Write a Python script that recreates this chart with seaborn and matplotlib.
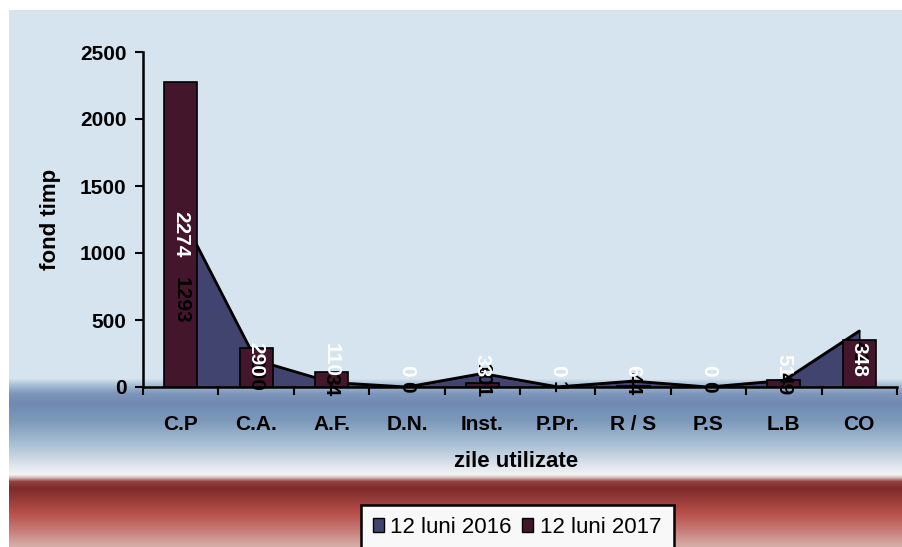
import numpy as np
import pandas as pd
import matplotlib.pyplot as plt
import seaborn as sns
from matplotlib.patches import Patch

# chart data
categories = ["C.P", "C.A.", "A.F.", "D.N.", "Inst.", "P.Pr.", "R / S", "P.S", "L.B", "CO"]
values_2016 = [1293, 200, 34, 0, 101, 1, 44, 0, 49, 418]
values_2017 = [2274, 290, 110, 0, 33, 0, 6, 0, 51, 348]
series_names = ["12 luni 2016", "12 luni 2017"]
y_ticks = [0, 500, 1000, 1500, 2000, 2500]

df = pd.DataFrame({"cat": categories, "v2016": values_2016, "v2017": values_2017})

area_color = "#424470"
bar_color = "#44162b"

sns.set_style("ticks")
plt.rcParams["font.family"] = ["Liberation Sans", "DejaVu Sans"]
plt.rcParams.update({"text.color": "black", "axes.labelcolor": "black",
                     "xtick.color": "black", "ytick.color": "black"})

W, H = 903, 547
fig = plt.figure(figsize=(W / 100, H / 100), dpi=100)
fig.patch.set_facecolor("white")

# background gradient (blue band at the floor, red band at the bottom)
bg = fig.add_axes([9 / W, 0, (W - 9) / W, (H - 10) / H], zorder=0)
stops_y = [10, 378, 384, 393, 403, 420, 445, 466, 474, 477, 481, 488, 512, 530, 547]
stops_rgb = [(214, 228, 239), (214, 228, 239), (170, 194, 214), (126, 150, 186),
             (112, 137, 178), (124, 153, 186), (172, 194, 214), (224, 231, 238),
             (243, 243, 243), (214, 188, 188), (150, 66, 66), (124, 42, 42),
             (184, 78, 73), (198, 125, 120), (218, 178, 173)]
rows = np.arange(10, H)
grad = np.stack([np.interp(rows, stops_y, [c[i] for c in stops_rgb]) for i in range(3)], axis=-1) / 255
bg.imshow(grad[:, None, :], aspect="auto", extent=[0, 1, 0, 1])
bg.set_axis_off()

# plot area
ax = fig.add_axes([143 / W, (H - 387) / H, 754 / W, 335 / H], zorder=1)
ax.patch.set_alpha(0)

x = np.arange(len(categories))
ax.fill_between(x, df["v2016"], color=area_color, edgecolor="black", linewidth=1.0, zorder=2)
sns.lineplot(x=x, y=df["v2016"], color="black", linewidth=2, ax=ax, zorder=2.5)
sns.barplot(data=df, x="cat", y="v2017", color=bar_color, saturation=1, width=0.44,
            edgecolor="black", linewidth=1.2, ax=ax, zorder=3)

ax.set_xlim(-0.5, len(categories) - 0.5)
ax.set_ylim(0, 2500)
ax.set_yticks(y_ticks)
ax.set_yticklabels([str(t) for t in y_ticks], fontsize=15, fontweight="bold")
ax.set_xticks(np.arange(len(categories) + 1) - 0.5)
ax.set_xticklabels([])
ax.set_xticks(x, minor=True)
ax.set_xticklabels(categories, minor=True, fontsize=15, fontweight="bold")
ax.tick_params(axis="x", which="minor", length=0, pad=20)
ax.tick_params(axis="x", which="major", length=6, width=1.5, direction="out", color="black")
ax.tick_params(axis="y", length=6, width=1.5, direction="out", color="black", pad=6)

for s in ["top", "right"]:
    ax.spines[s].set_visible(False)
for s in ["left", "bottom"]:
    ax.spines[s].set_linewidth(1.8)
    ax.spines[s].set_color("black")

ax.set_xlabel("zile utilizate", fontsize=16, fontweight="bold")
ax.set_ylabel("fond timp", fontsize=16, fontweight="bold")
ax.xaxis.set_label_coords(0.495, -0.221)
ax.yaxis.set_label_coords(-0.123, 0.5)
ax.xaxis.label.set_va("center")
ax.yaxis.label.set_va("center")

# data labels: 2016 black at half height, 2017 white at half height but kept above the axis
for i, v in enumerate(values_2016):
    ax.text(i, v / 2, str(v), rotation=270, ha="center", va="center", fontsize=15,
            fontweight="bold", color="black", zorder=5)
white = []
for i, v in enumerate(values_2017):
    t = ax.text(i, v / 2, str(v), rotation=270, ha="center", va="center", fontsize=15,
                fontweight="bold", color="white", zorder=6)
    white.append((t, v))

fig.canvas.draw()
px_per_unit = ax.transData.transform((0, 1))[1] - ax.transData.transform((0, 0))[1]
for t, v in white:
    h_px = t.get_window_extent().height
    min_center = (10 + h_px / 2) / px_per_unit
    if v / 2 < min_center:
        t.set_y(min_center)

handles = [Patch(facecolor=area_color, edgecolor="black"), Patch(facecolor=bar_color, edgecolor="black")]
leg = fig.legend(handles=handles, labels=series_names, loc="upper center",
                 bbox_to_anchor=(517 / W, 42 / H), ncol=2, frameon=True, fancybox=False,
                 edgecolor="black", facecolor="#f8f8f8", framealpha=1, fontsize=16,
                 handlelength=0.5, handleheight=0.6, handletextpad=0.3,
                 columnspacing=0.45, borderpad=0.55, borderaxespad=0)
leg.get_frame().set_linewidth(1.8)
leg.set_zorder(10)

fig.savefig("out.png", dpi=100)
